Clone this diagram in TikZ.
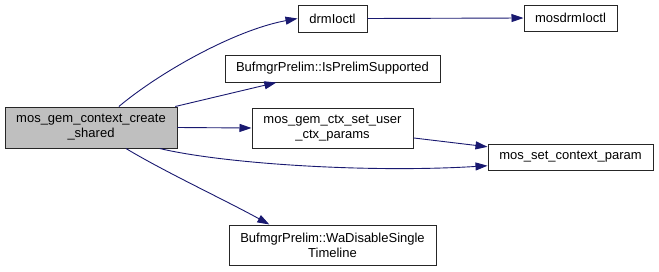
\documentclass[tikz,border=0pt]{standalone}
\usepackage{fontspec}
\setmainfont{Liberation Sans}
\usetikzlibrary{arrows.meta}
\definecolor{azulnoche}{RGB}{25,25,112}
\definecolor{grisnodo}{RGB}{191,191,191}

\begin{document}
\begin{tikzpicture}[x=1pt,y=-1pt,
  caja/.style={draw=black!85, fill=white, line width=1pt, inner sep=0pt,
    align=center, font=\fontsize{13}{15}\selectfont},
  llamada/.style={draw=azulnoche, line width=0.9pt,
    -{Triangle[length=12pt,width=8pt]}}]
  \useasboundingbox (0,0) rectangle (659,271);

  % Funcion principal
  \node[caja, fill=grisnodo, minimum width=172pt, minimum height=41pt] (main) at (91,127.5)
    {mos\_gem\_context\_create\\\_shared};

  % Funciones llamadas
  \node[caja, minimum width=69pt, minimum height=27pt] (drm) at (332.5,18.5) {drmIoctl};
  \node[caja, minimum width=93pt, minimum height=26pt] (mosdrm) at (570.5,18) {mosdrmIoctl};
  \node[caja, minimum width=215pt, minimum height=27pt] (prelim) at (332.5,68.5)
    {BufmgrPrelim::IsPrelimSupported};
  \node[caja, minimum width=161pt, minimum height=40pt] (userctx) at (332.5,128)
    {mos\_gem\_ctx\_set\_user\\\_ctx\_params};
  \node[caja, minimum width=165pt, minimum height=26pt] (setparam) at (570.5,157)
    {mos\_set\_context\_param};
  \node[caja, minimum width=207pt, minimum height=40pt] (wadisable) at (332.5,245)
    {BufmgrPrelim::WaDisableSingle\\Timeline};

  % Aristas
  \draw[llamada] (main.37) .. controls (160,72) and (235,30) .. (drm.west);
  \draw[llamada] (drm.east) -- (mosdrm.west);
  \draw[llamada] (main.14) -- (prelim.194);
  \draw[llamada] (main.east) -- (userctx.west);
  \draw[llamada] (userctx.-7) -- (setparam.173);
  \draw[llamada] (main.-17) .. controls (225,164) and (370,173) .. (setparam.186);
  \draw[llamada] (main.-31) .. controls (165,172) and (225,200) .. (wadisable.162);

\end{tikzpicture}
\end{document}
